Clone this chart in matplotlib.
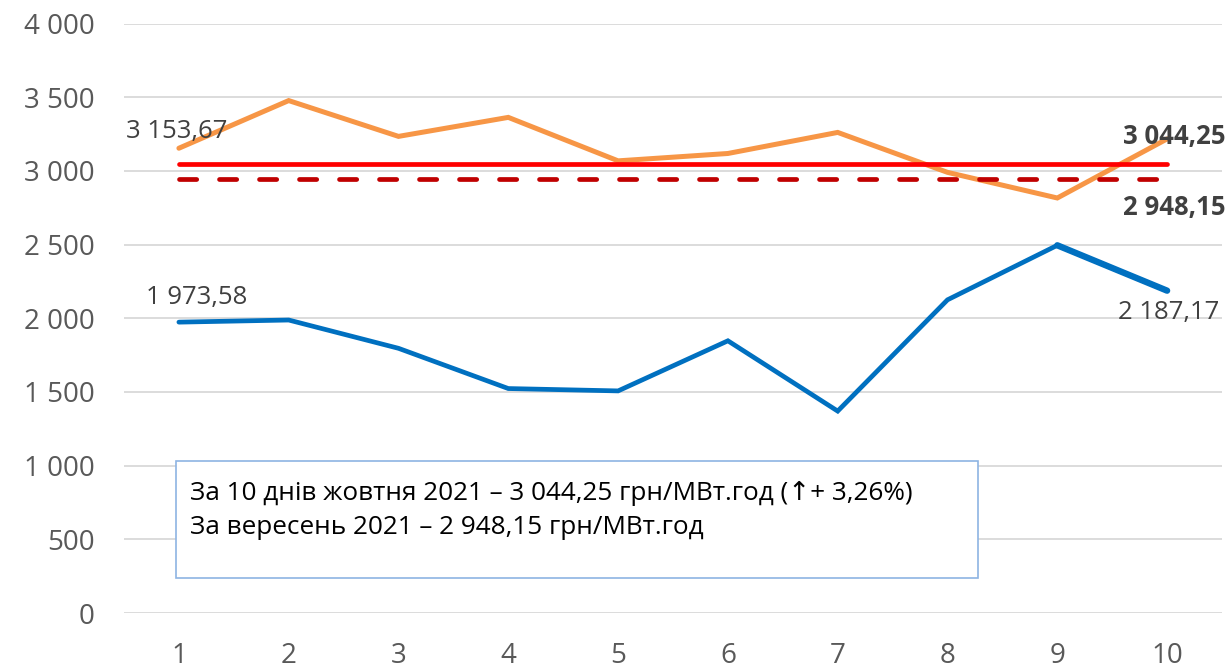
import matplotlib.pyplot as plt
from matplotlib.patches import Rectangle

# дні жовтня 2021
days = [1, 2, 3, 4, 5, 6, 7, 8, 9, 10]
price_oct = [3153.67, 3477, 3234, 3363, 3068, 3118, 3261, 2990, 2816, 3217]
price_blue = [1973.58, 1988, 1796, 1523, 1507, 1847, 1370, 2125, 2495, 2187.17]
avg_oct = 3044.25
avg_sep = 2948.15
yticks = [0, 500, 1000, 1500, 2000, 2500, 3000, 3500, 4000]
box_lines = ["За 10 днів жовтня 2021 – 3 044,25 грн/МВт.год (↑+ 3,26%)",
             "За вересень 2021 – 2 948,15 грн/МВт.год"]


def fmt(v):
    s = f"{v:,.2f}".replace(",", " ").replace(".", ",")
    return s


def fmt_tick(v):
    return f"{int(v):,}".replace(",", " ")


plt.rcParams['font.family'] = ['Open Sans', 'DejaVu Sans']
plt.rcParams['lines.scale_dashes'] = False

fig = plt.figure(figsize=(12.29, 6.70), dpi=100)
ax = fig.add_axes([124 / 1229, 1 - 613 / 670, (1222 - 124) / 1229, (613 - 23.5) / 670])

ax.plot(days, price_oct, color='#F79646', lw=3.6, solid_capstyle='round', solid_joinstyle='miter', zorder=3)
ax.plot(days, price_blue, color='#0070C0', lw=3.4, solid_capstyle='round', solid_joinstyle='miter', zorder=3)
ax.plot(days[-2:], price_blue[-2:], color='#0070C0', lw=4.6, solid_capstyle='round', zorder=3)
ax.plot([days[0], days[-1]], [avg_oct, avg_oct], color='#FF0000', lw=3.4,
        solid_capstyle='round', zorder=4)
ax.plot([days[0], days[-1]], [avg_sep, avg_sep], color='#C00000', lw=3.4,
        linestyle=(0, (12.4, 16.4)), dash_capstyle='round', zorder=4)

ax.set_xlim(0.5, 10.5)
ax.set_ylim(0, 4000)
ax.set_xticks(days)
ax.set_yticks(yticks)
ax.set_yticklabels([fmt_tick(v) for v in yticks])
ax.tick_params(length=0, labelsize=20, labelcolor='#595959')
ax.tick_params(axis='y', pad=21)
ax.tick_params(axis='x', pad=21)
ax.grid(axis='y', color='#D9D9D9', lw=1.3)
ax.set_axisbelow(True)
for sp in ax.spines.values():
    sp.set_visible(False)

lab_c = '#404040'
ax.annotate(fmt(price_oct[0]), (days[0], price_oct[0]), xytext=(-38, 12), textcoords='offset points',
            fontsize=18.5, color=lab_c, va='center', ha='left')
ax.annotate(fmt(price_blue[0]), (days[0], price_blue[0]), xytext=(-24, 18), textcoords='offset points',
            fontsize=18.5, color=lab_c, va='center', ha='left')
ax.annotate(fmt(price_blue[-1]), (days[-1], price_blue[-1]), xytext=(-35, -16), textcoords='offset points',
            fontsize=18.5, color=lab_c, va='center', ha='left')
ax.annotate(fmt(avg_oct), (days[-1], avg_oct), xytext=(-32, 20), textcoords='offset points',
            fontsize=18.5, color=lab_c, va='center', ha='left', fontweight='bold')
ax.annotate(fmt(avg_sep), (days[-1], avg_sep), xytext=(-32, -21), textcoords='offset points',
            fontsize=18.5, color=lab_c, va='center', ha='left', fontweight='bold')

# текстове поле
fig.patches.append(Rectangle((176 / 1229, 1 - 578 / 670), (978 - 176) / 1229, (578 - 461) / 670,
                             transform=fig.transFigure, facecolor='white', edgecolor='#8EB4E3',
                             lw=1.2, zorder=5))
fig.text(190 / 1229, 1 - 493 / 670, box_lines[0], fontsize=18.8, color='black', va='center', zorder=6)
fig.text(190 / 1229, 1 - 527 / 670, box_lines[1], fontsize=18.8, color='black', va='center', zorder=6)

fig.savefig('out.png', dpi=100)
